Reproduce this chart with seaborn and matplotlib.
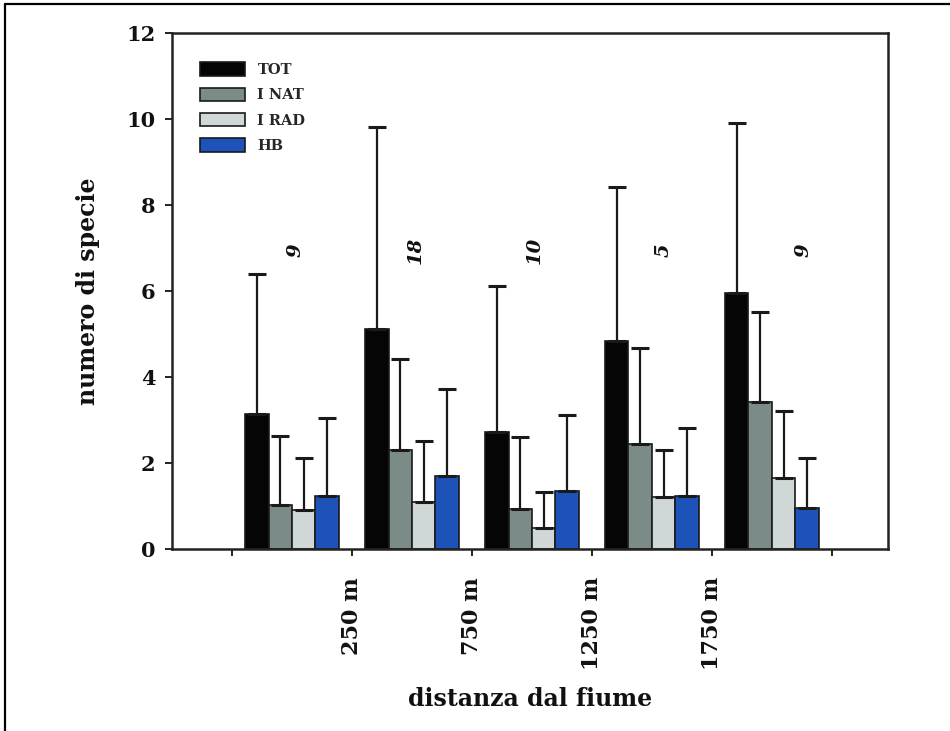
import matplotlib
matplotlib.use("Agg")
import matplotlib.pyplot as plt
from matplotlib.lines import Line2D
import numpy as np
import pandas as pd
import seaborn as sns

# Mean species count per distance class and group, with standard deviation
groups = ["A", "B", "C", "D", "E"]
series = ["TOT", "I NAT", "I RAD", "HB"]
tot_mean = [3.15, 5.12, 2.72, 4.84, 5.95]
tot_sd = [3.25, 4.69, 3.40, 3.58, 3.96]
inat_mean = [1.02, 2.30, 0.93, 2.44, 3.42]
inat_sd = [1.61, 2.12, 1.68, 2.23, 2.09]
irad_mean = [0.91, 1.09, 0.49, 1.21, 1.65]
irad_sd = [1.21, 1.42, 0.84, 1.09, 1.56]
hb_mean = [1.23, 1.70, 1.35, 1.23, 0.95]
hb_sd = [1.82, 2.02, 1.77, 1.58, 1.17]
n_sites = ["9", "18", "10", "5", "9"]
tick_labels = ["", "250 m", "750 m", "1250 m", "1750 m", ""]

means = {"TOT": tot_mean, "I NAT": inat_mean, "I RAD": irad_mean, "HB": hb_mean}
sds = {"TOT": tot_sd, "I NAT": inat_sd, "I RAD": irad_sd, "HB": hb_sd}

df = pd.DataFrame(
    [(g, s, means[s][i]) for s in series for i, g in enumerate(groups)],
    columns=["gruppo", "serie", "valore"],
)

palette = {"TOT": "#050505", "I NAT": "#7b8b87", "I RAD": "#cfd7d7", "HB": "#1d52b8"}

sns.set_style("ticks")
plt.rcParams["font.family"] = ["DejaVu Serif"]
plt.rcParams["font.weight"] = "bold"

fig = plt.figure(figsize=(9.5, 7.31), dpi=100)
ax = fig.add_axes([0.181, 0.249, 0.754, 0.706])

sns.barplot(
    data=df, x="gruppo", y="valore", hue="serie", hue_order=series,
    palette=palette, width=0.78, errorbar=None, edgecolor="#1a1a1a",
    linewidth=1.2, saturation=1, ax=ax,
)

# one-sided (upper) error bars on top of each bar
for s, cont in zip(series, ax.containers):
    for bar, sd in zip(cont, sds[s]):
        x = bar.get_x() + bar.get_width() / 2
        top = bar.get_height()
        ax.errorbar(x, top, yerr=[[0], [sd]], fmt="none", ecolor="#1a1a1a",
                    elinewidth=1.6, capsize=6.5, capthick=2.2, zorder=3)

# number of sites per group
label_dx = [0.03, 0.03, 0.02, 0.10, 0.26]
for i, (n, dx) in enumerate(zip(n_sites, label_dx)):
    ax.text(i + dx, 6.95, n, rotation=90, ha="center", va="center",
            fontsize=14, fontstyle="italic", fontweight="bold", color="#111")

ax.set_ylim(0, 12)
ax.set_yticks(np.arange(0, 13, 2))
ax.set_xlim(-1.0, 4.97)
ax.set_xticks(np.arange(-0.5, 5.0, 1.0))
ax.set_xticklabels(tick_labels, rotation=90)

for sp in ax.spines.values():
    sp.set_visible(True)
    sp.set_linewidth(1.8)
    sp.set_color("#222222")

ax.tick_params(axis="y", labelsize=15, length=5, width=1.4, pad=7, colors="#222222")
ax.tick_params(axis="x", labelsize=16, length=5, width=1.4, pad=15, colors="#222222")
for lab in ax.get_xticklabels() + ax.get_yticklabels():
    lab.set_fontweight("bold")
    lab.set_color("#111111")

ax.set_xlabel("distanza dal fiume", fontsize=17, fontweight="bold", labelpad=12, color="#111")
ax.set_ylabel("numero di specie", fontsize=17, fontweight="bold", labelpad=19, color="#111")

handles, labels = ax.get_legend_handles_labels()
ax.legend(handles, labels, loc="upper left", bbox_to_anchor=(0.039, 0.943),
          frameon=False, handlelength=3.1, handleheight=1.05,
          handletextpad=0.85, labelspacing=0.72, borderpad=0, borderaxespad=0,
          prop={"weight": "bold", "size": 10.5})

# partial outer frame around the figure
fig.add_artist(Line2D([5 / 950, 5 / 950], [0, 1 - 4 / 731], transform=fig.transFigure,
                      color="black", linewidth=1.6))
fig.add_artist(Line2D([5 / 950, 1], [1 - 4 / 731, 1 - 4 / 731], transform=fig.transFigure,
                      color="black", linewidth=1.6))

fig.savefig("out.png", dpi=100, facecolor="white")
